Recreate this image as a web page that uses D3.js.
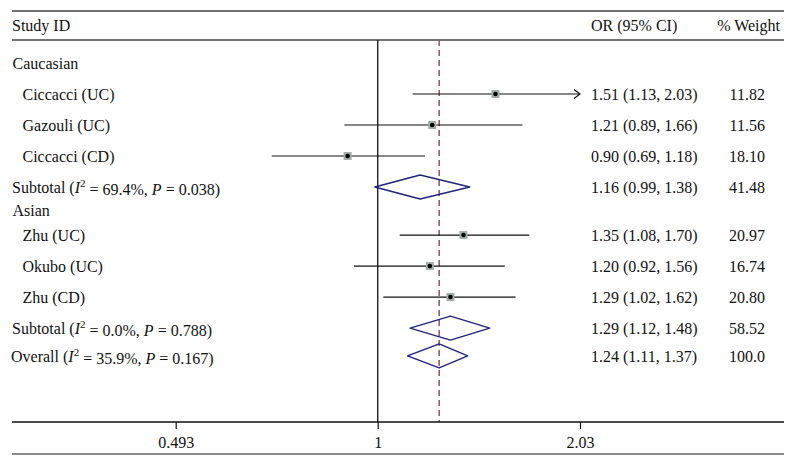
<!DOCTYPE html>
<html>
<head>
<meta charset="utf-8">
<script src="https://cdn.jsdelivr.net/npm/d3@7"></script>
<style>
  html, body { margin: 0; padding: 0; background: #fff; }
  svg { display: block; }
  text { font-family: "Liberation Serif", "DejaVu Serif", serif; font-size: 16px; fill: #111; }
</style>
</head>
<body>
<svg id="chart" width="795" height="465"></svg>
<script>
// ---------------- data ----------------
const rowLabels = ["Caucasian", "Ciccacci (UC)", "Gazouli (UC)", "Ciccacci (CD)", "Subtotal", "Asian",
                   "Zhu (UC)", "Okubo (UC)", "Zhu (CD)", "Subtotal", "Overall"];
const rowTypes  = ["group", "study", "study", "study", "subtotal", "group",
                   "study", "study", "study", "subtotal", "overall"];
const rowSlots  = [0, 1, 2, 3, 4, 4.75, 5.55, 6.55, 7.55, 8.55, 9.45];
const orValues  = [null, 1.51, 1.21, 0.90, 1.16, null, 1.35, 1.20, 1.29, 1.29, 1.24];
const ciLower   = [null, 1.13, 0.89, 0.69, 0.99, null, 1.08, 0.92, 1.02, 1.12, 1.11];
const ciUpper   = [null, 2.03, 1.66, 1.18, 1.38, null, 1.70, 1.56, 1.62, 1.48, 1.37];
const weightLabels = [null, "11.82", "11.56", "18.10", "41.48", null, "20.97", "16.74", "20.80", "58.52", "100.0"];
const hetI2     = [null, null, null, null, "69.4%", null, null, null, null, "0.0%", "35.9%"];
const hetP      = [null, null, null, null, "0.038", null, null, null, null, "0.788", "0.167"];
const tickValues = [0.493, 1, 2.03];
const tickLabels = ["0.493", "1", "2.03"];
const overallOR = 1.24;

// ---------------- layout ----------------
const svg = d3.select("#chart");
const left = 12, right = 784;
const headerTop = 11, headerBottom = 40, axisY = 422, bottomLine = 454;

const x = d3.scaleLog().domain([tickValues[0], tickValues[2]]).range([175.7, 580]);
const y = d3.scaleLinear().domain([0, 1]).range([63, 94]);

const rows = rowLabels.map((label, i) => ({
  label, type: rowTypes[i], slot: rowSlots[i], or: orValues[i], lo: ciLower[i], hi: ciUpper[i],
  w: weightLabels[i], i2: hetI2[i], p: hetP[i]
}));

// header lines
svg.append("line").attr("x1", left).attr("x2", right).attr("y1", headerTop).attr("y2", headerTop)
  .attr("stroke", "#444").attr("stroke-width", 1.3);
svg.append("line").attr("x1", left).attr("x2", right).attr("y1", headerBottom).attr("y2", headerBottom)
  .attr("stroke", "#444").attr("stroke-width", 1.3);

// header texts
svg.append("text").attr("x", left).attr("y", 25).attr("dy", "0.35em").text("Study ID");
svg.append("text").attr("x", 591).attr("y", 25).attr("dy", "0.35em").text("OR (95% CI)");
svg.append("text").attr("x", 780).attr("y", 25).attr("dy", "0.35em").attr("text-anchor", "end").text("% Weight");

// null line
svg.append("line").attr("x1", x(1)).attr("x2", x(1)).attr("y1", headerBottom).attr("y2", axisY)
  .attr("stroke", "#111").attr("stroke-width", 1.3);

// overall dashed line
svg.append("line").attr("x1", x(overallOR)).attr("x2", x(overallOR)).attr("y1", headerBottom).attr("y2", axisY)
  .attr("stroke", "#94525a").attr("stroke-width", 1.5).attr("stroke-dasharray", "6,4");

// axis
const axisG = svg.append("g").attr("transform", `translate(0,${axisY})`)
  .call(d3.axisBottom(x).tickValues(tickValues).tickSize(7).tickPadding(8)
    .tickFormat((d, i) => tickLabels[i]));
axisG.select(".domain").remove();
axisG.selectAll(".tick line").attr("stroke", "#111").attr("stroke-width", 1.2);
axisG.selectAll(".tick text").attr("fill", "#111")
  .style("font-family", "'Liberation Serif', 'DejaVu Serif', serif").style("font-size", "16px");
svg.append("line").attr("x1", left).attr("x2", right).attr("y1", axisY).attr("y2", axisY)
  .attr("stroke", "#111").attr("stroke-width", 1.3);
svg.append("line").attr("x1", left).attr("x2", right).attr("y1", bottomLine).attr("y2", bottomLine)
  .attr("stroke", "#8a8a8a").attr("stroke-width", 2);

// labels
rows.forEach(r => {
  const yy = y(r.slot);
  const t = svg.append("text").attr("y", yy).attr("dy", "0.35em");
  if (r.type === "group") {
    t.attr("x", 12.5).text(r.label);
  } else if (r.type === "study") {
    t.attr("x", 22.5).text(r.label);
  } else {
    t.attr("x", r.type === "overall" ? 11 : 12).text(r.label + " (");
    t.append("tspan").attr("font-style", "italic").text("I");
    t.append("tspan").attr("font-size", "11px").attr("dy", "-0.55em").text("2");
    t.append("tspan").attr("dy", "0.55em").text(" = " + r.i2 + ", ");
    t.append("tspan").attr("font-style", "italic").text("P");
    t.append("tspan").text(" = " + r.p + ")");
  }
  if (r.or != null) {
    svg.append("text").attr("x", 591).attr("y", yy).attr("dy", "0.35em")
      .text(`${r.or.toFixed(2)} (${r.lo.toFixed(2)}, ${r.hi.toFixed(2)})`);
    svg.append("text").attr("x", 765).attr("y", yy).attr("dy", "0.35em").attr("text-anchor", "end")
      .text(r.w);
  }
});

// study CIs and markers
const xMax = tickValues[tickValues.length - 1];
rows.filter(r => r.type === "study").forEach(r => {
  const yy = y(r.slot);
  svg.append("line").attr("x1", x(r.lo)).attr("x2", x(Math.min(r.hi, xMax))).attr("y1", yy).attr("y2", yy)
    .attr("stroke", "#111").attr("stroke-width", 1.2);
  if (r.hi >= xMax) {
    const tip = x(xMax);
    svg.append("path").attr("d", `M${tip - 6},${yy - 4.5}L${tip},${yy}L${tip - 6},${yy + 4.5}`)
      .attr("fill", "none").attr("stroke", "#111").attr("stroke-width", 1.2);
  }
  svg.append("rect").attr("x", x(r.or) - 4).attr("y", yy - 4).attr("width", 8).attr("height", 8)
    .attr("fill", "#a2aca8");
  svg.append("circle").attr("cx", x(r.or)).attr("cy", yy).attr("r", 2.3).attr("fill", "#000");
});

// diamonds
rows.filter(r => r.type === "subtotal" || r.type === "overall").forEach(r => {
  const yy = y(r.slot);
  const h = 12;
  svg.append("path")
    .attr("d", `M${x(r.lo)},${yy}L${x(r.or)},${yy - h}L${x(r.hi)},${yy}L${x(r.or)},${yy + h}Z`)
    .attr("fill", "none").attr("stroke", "#23237a").attr("stroke-width", 1.4)
    .attr("stroke-linejoin", "round");
});
</script>
</body>
</html>
